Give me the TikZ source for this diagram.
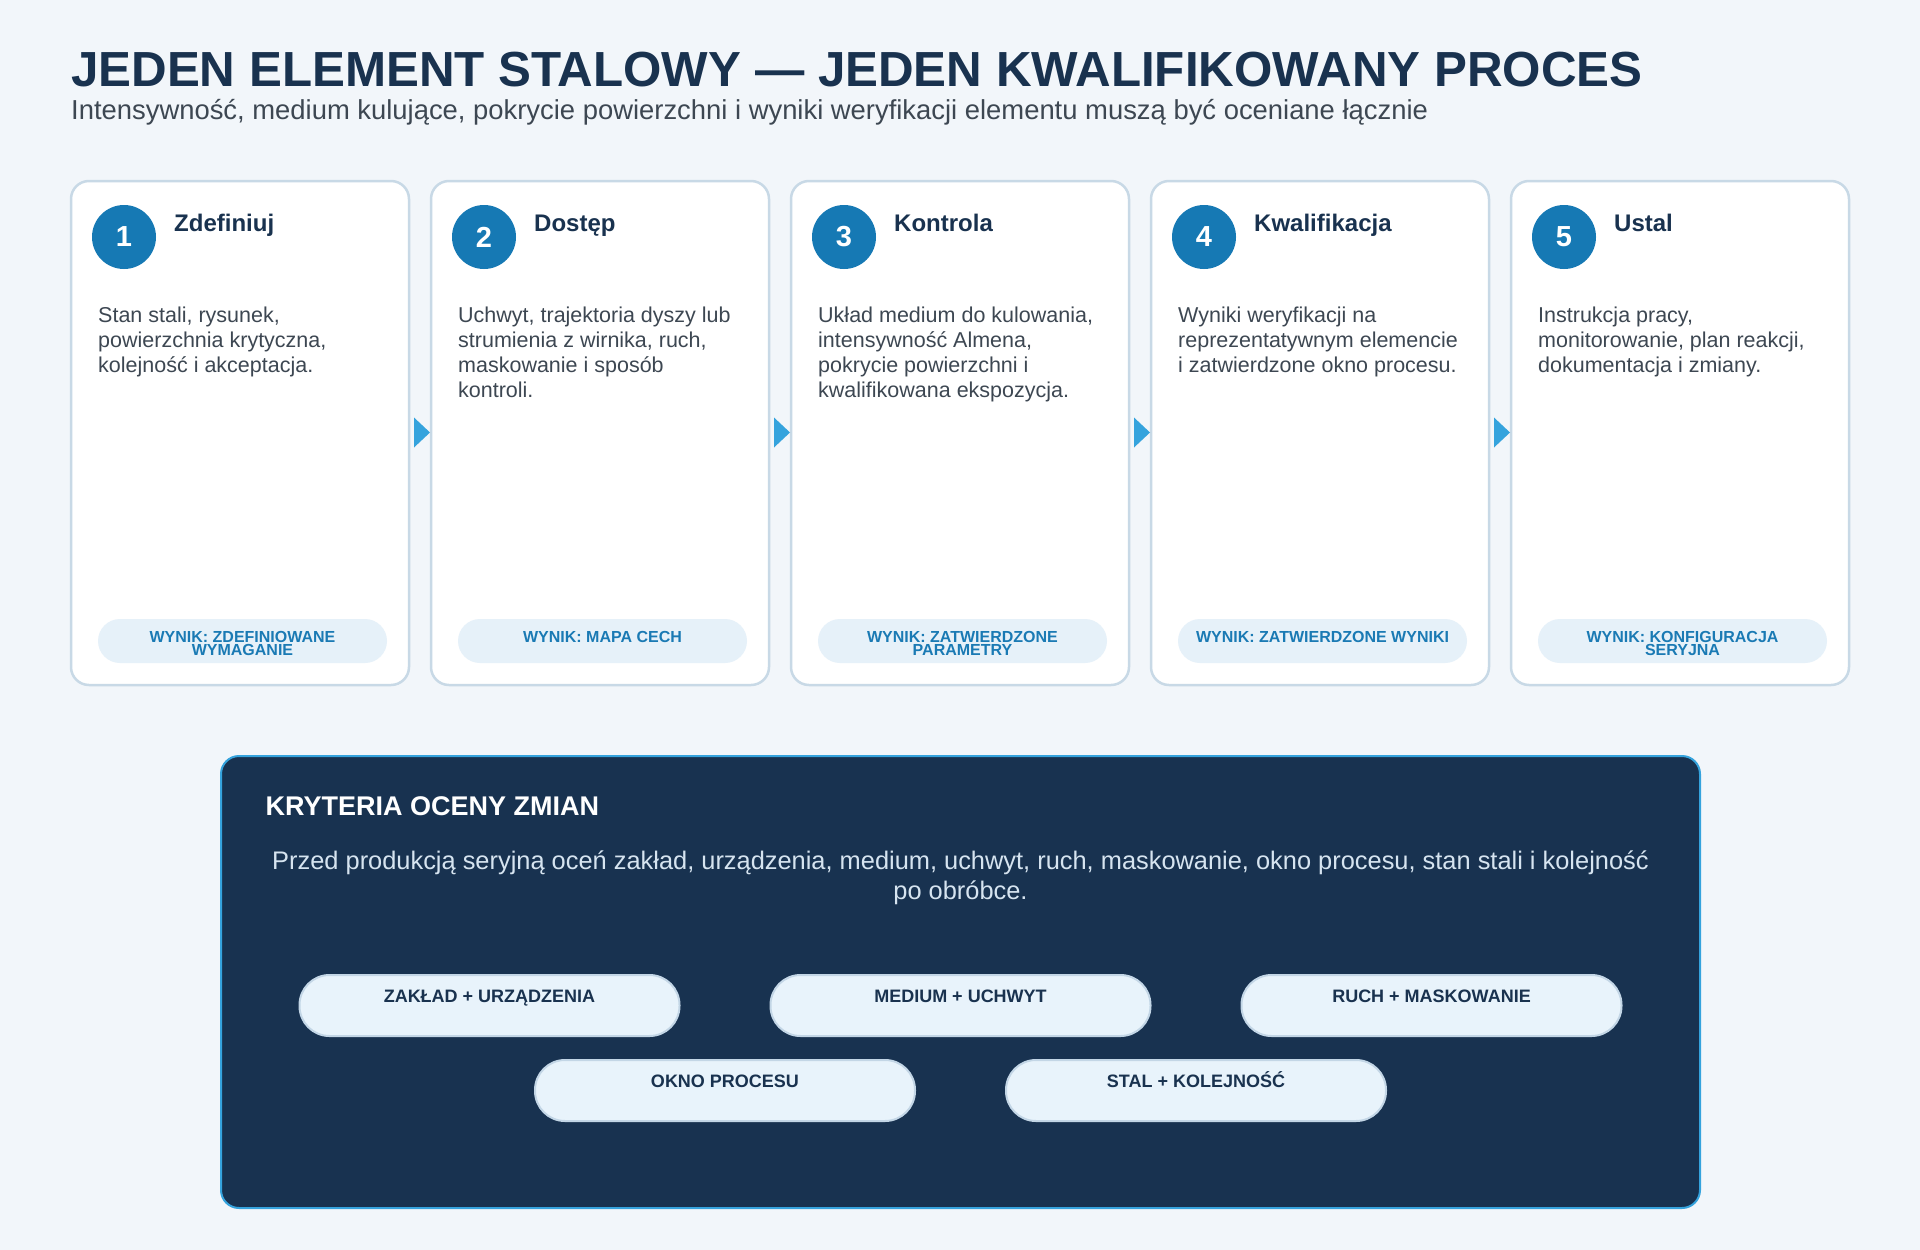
\documentclass[tikz,border=0pt]{standalone}
\usepackage{fontspec}
\setmainfont{Liberation Sans}
\usetikzlibrary{calc}
\definecolor{bg}{HTML}{F2F6FA}
\definecolor{navy}{HTML}{19324F}
\definecolor{cardborder}{HTML}{C8D9E6}
\definecolor{circ}{HTML}{1679B4}
\definecolor{bodytxt}{HTML}{3D4752}
\definecolor{tri}{HTML}{35A3DD}
\definecolor{pillfill}{HTML}{E6F1F9}
\definecolor{pilltxt}{HTML}{1A7AB4}
\definecolor{darkfill}{HTML}{183250}
\definecolor{paratxt}{HTML}{D6E4F0}
\definecolor{chipfill}{HTML}{E8F3FB}
\definecolor{chipborder}{HTML}{C3D6E6}
\newcommand{\fsz}[2]{\fontsize{#1}{#2}\selectfont}
\tikzset{
  cardbox/.style={draw=cardborder, fill=white, line width=2.5pt, rounded corners=18pt,
    minimum width=338pt, minimum height=504pt, inner sep=0pt, outer sep=0pt, anchor=north west},
  numcirc/.style={circle, fill=circ, minimum size=64pt, inner sep=0pt, text=white, font=\bfseries\fsz{29}{29}},
  cardhead/.style={anchor=base west, inner sep=0pt, text=navy, font=\bfseries\fsz{24}{28}},
  cardbody/.style={anchor=base west, inner sep=0pt, align=left, text=bodytxt, font=\fsz{21.5}{25.2}},
  pillbox/.style={fill=pillfill, rounded corners=22pt, minimum width=289pt, minimum height=44pt,
    inner sep=0pt, outer sep=0pt, anchor=north west},
  pilltext/.style={anchor=base, inner sep=0pt, align=center, text=pilltxt, font=\bfseries\fsz{16}{12.7}},
  flowtri/.style={fill=tri},
  critbox/.style={draw=tri, fill=darkfill, line width=2pt, rounded corners=18pt,
    minimum width=1479pt, minimum height=452pt, inner sep=0pt},
  chipbox/.style={draw=chipborder, fill=chipfill, line width=2pt, rounded corners=30pt,
    minimum width=380pt, minimum height=61pt, inner sep=0pt},
  chiptext/.style={anchor=base, inner sep=0pt, text=navy, font=\bfseries\fsz{18}{20}},
}
% #1 index, #2 number, #3 title, #4 body, #5 body lines, #6 pill text, #7 pill lines
\newcommand{\stepcard}[7]{%
  \pgfmathsetmacro{\cx}{71+360*(#1-1)}
  \pgfmathsetmacro{\bodyy}{322+25.2*(#5-1)}
  \pgfmathsetmacro{\pilly}{642.6+12.7*(#7-1)}
  \node[cardbox] (card#1) at (\cx,181) {};
  \node[numcirc] (num#1) at (\cx+53,237) {#2};
  \node[cardhead] (head#1) at (\cx+103,231) {#3};
  \node[cardbody] (body#1) at (\cx+27,\bodyy) {#4};
  \node[pillbox] (pill#1) at (\cx+27,619) {};
  \node[pilltext] (pilltxt#1) at (\cx+171.5,\pilly) {#6};
}
\begin{document}
\begin{tikzpicture}[x=1pt,y=-1pt]
\useasboundingbox (0,0) rectangle (1920,1250);
\fill[bg] (0,0) rectangle (1920,1250);

\node[anchor=base west, inner sep=0pt, text=navy, font=\bfseries\fsz{49.3}{55}] (title) at (71,86.5)
  {JEDEN ELEMENT STALOWY — JEDEN KWALIFIKOWANY PROCES};
\node[anchor=base west, inner sep=0pt, text=bodytxt, font=\fsz{27.4}{31}] (subtitle) at (71,119.3)
  {Intensywność, medium kulujące, pokrycie powierzchni i wyniki weryfikacji elementu muszą być oceniane łącznie};

\stepcard{1}{1}{Zdefiniuj}{Stan stali, rysunek,\\powierzchnia krytyczna,\\kolejność i akceptacja.}{3}{WYNIK: ZDEFINIOWANE\\WYMAGANIE}{2}
\stepcard{2}{2}{Dostęp}{Uchwyt, trajektoria dyszy lub\\strumienia z wirnika, ruch,\\maskowanie i sposób\\kontroli.}{4}{WYNIK: MAPA CECH}{1}
\stepcard{3}{3}{Kontrola}{Układ medium do kulowania,\\intensywność Almena,\\pokrycie powierzchni i\\kwalifikowana ekspozycja.}{4}{WYNIK: ZATWIERDZONE\\PARAMETRY}{2}
\stepcard{4}{4}{Kwalifikacja}{Wyniki weryfikacji na\\reprezentatywnym elemencie\\i zatwierdzone okno procesu.}{3}{WYNIK: ZATWIERDZONE WYNIKI}{1}
\stepcard{5}{5}{Ustal}{Instrukcja pracy,\\monitorowanie, plan reakcji,\\dokumentacja i zmiany.}{3}{WYNIK: KONFIGURACJA\\SERYJNA}{2}

\foreach \a/\b in {1/2,2/3,3/4,4/5}{
  \fill[flowtri] ($(card\a.east)+(5,-15.5)$) -- ($(card\a.east)+(21,-0.5)$) -- ($(card\a.east)+(5,14.5)$) -- cycle;
}

\node[critbox] (crit) at (960.5,982) {};
\node[anchor=base west, inner sep=0pt, text=white, font=\bfseries\fsz{27}{30}] (crithead) at (265.5,815)
  {KRYTERIA OCENY ZMIAN};
\node[anchor=base, inner sep=0pt, align=center, text=paratxt, font=\fsz{25.4}{29.5}] (critpara) at (960.5,899)
  {Przed produkcją seryjną oceń zakład, urządzenia, medium, uchwyt, ruch, maskowanie, okno procesu, stan stali i kolejność\\po obróbce.};

\node[chipbox] (chip1) at (489.5,1005.5) {};
\node[chipbox] (chip2) at (960.5,1005.5) {};
\node[chipbox] (chip3) at (1431.5,1005.5) {};
\node[chipbox] (chip4) at (725,1090.5) {};
\node[chipbox] (chip5) at (1196,1090.5) {};
\node[chiptext] (chiptxt1) at (489.5,1002) {ZAKŁAD + URZĄDZENIA};
\node[chiptext] (chiptxt2) at (960.5,1002) {MEDIUM + UCHWYT};
\node[chiptext] (chiptxt3) at (1431.5,1002) {RUCH + MASKOWANIE};
\node[chiptext] (chiptxt4) at (725,1087) {OKNO PROCESU};
\node[chiptext] (chiptxt5) at (1196,1087) {STAL + KOLEJNOŚĆ};
\end{tikzpicture}
\end{document}
